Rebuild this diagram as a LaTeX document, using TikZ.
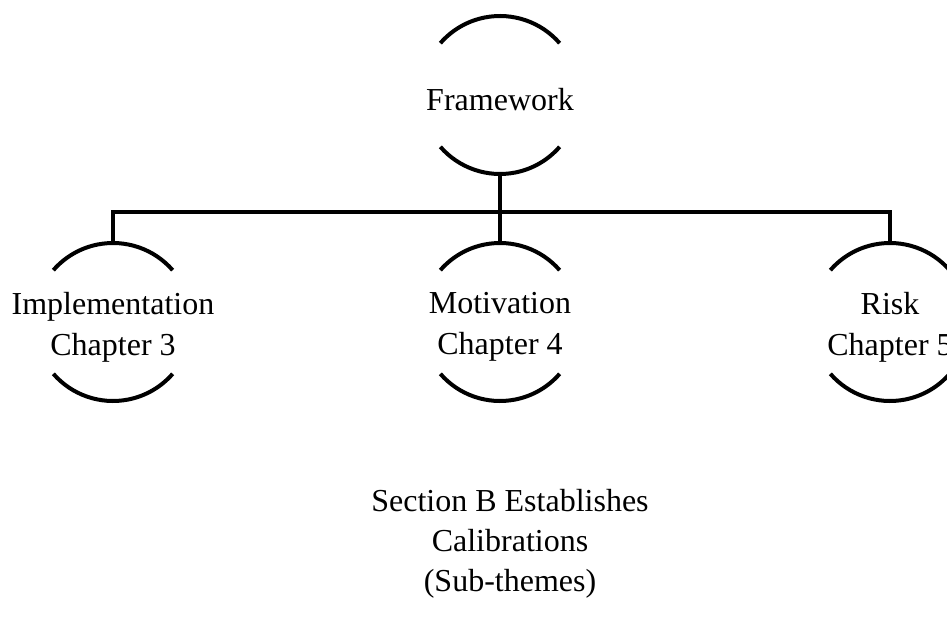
\documentclass[tikz,border=0pt]{standalone}
\usepackage{fontspec}
\setmainfont{Liberation Serif}
\usepackage{tikz}
\newcommand{\topicradius}{39.5pt}
\tikzset{
    topic/.style={circle, inner sep=0pt, outer sep=0pt, minimum size=79pt,
        label={[align=center, yshift=-2.5pt,
            font=\fontsize{16}{20.5}\selectfont]center:#1}},
    caption/.style={anchor=base, font=\fontsize{16}{19}\selectfont},
    arcline/.style={line width=2pt},
    link/.style={line width=2pt}
}

\begin{document}
\begin{tikzpicture}[x=0.5pt, y=-0.5pt]
    \useasboundingbox (0,0) rectangle (947,626);
    \clip (0,0) rectangle (947,626);

    \node[topic={Framework}] (fw) at (500,95) {};
    \node[topic={Implementation\\Chapter 3}] (impl) at (113,322) {};
    \node[topic={Motivation\\Chapter 4}] (mot) at (500,322) {};
    \node[topic={Risk\\Chapter 5}] (risk) at (890,322) {};

    % half-open brackets round each topic
    \foreach \t in {fw, impl, mot, risk} {
        \draw[arcline] (\t.41) arc[start angle=41, end angle=139, radius=\topicradius];
        \draw[arcline] (\t.221) arc[start angle=221, end angle=319, radius=\topicradius];
    }

    \coordinate (bar) at (500,212);
    \draw[link] (fw.south) -- (mot.north);
    \draw[link] (impl.north) |- (bar) -| (risk.north);

    \node[caption] (cap1) at (510,511) {Section B Establishes};
    \node[caption] (cap2) at (510,551) {Calibrations};
    \node[caption] (cap3) at (510,591) {(Sub-themes)};
\end{tikzpicture}
\end{document}
